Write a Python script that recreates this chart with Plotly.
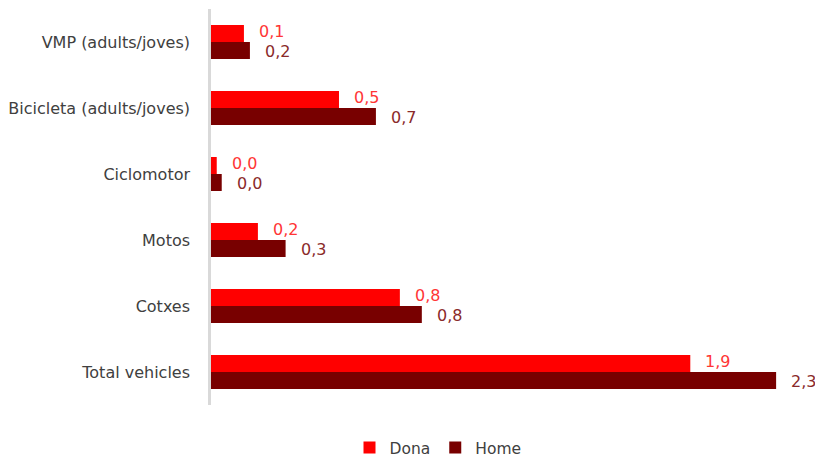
import plotly.graph_objects as go

categories = ["VMP (adults/joves)", "Bicicleta (adults/joves)", "Ciclomotor",
              "Motos", "Cotxes", "Total vehicles"]
dona = [0.132, 0.513, 0.023, 0.188, 0.757, 1.921]
home = [0.156, 0.661, 0.043, 0.299, 0.845, 2.265]
series_names = ["Dona", "Home"]

# page body has an 8px margin; figure is sized so that it fits the 823x457 window
OFF = 8
W, H = 823 - OFF, 457 - OFF
ML, MR, MT, MB = 211 - OFF, 0, 9 - OFF, 457 - 405
px_per_unit = 249.5
plot_w = W - ML - MR
plot_h = H - MT - MB
xmax = plot_w / px_per_unit

C_DONA = "#FF0000"
C_HOME = "#780000"
TXT = "#404040"
FONT = "DejaVu Sans"

fig = go.Figure()
fig.add_trace(go.Bar(y=categories, x=dona, name=series_names[0], orientation="h",
                     marker=dict(color=C_DONA, line=dict(width=0))))
fig.add_trace(go.Bar(y=categories, x=home, name=series_names[1], orientation="h",
                     marker=dict(color=C_HOME, line=dict(width=0))))

ann = []
for c, v in zip(categories, dona):
    ann.append(dict(x=v, y=c, xref="x", yref="y", text=f"{v:.1f}".replace(".", ","),
                    showarrow=False, xanchor="left", yanchor="middle", xshift=13, yshift=11,
                    font=dict(family=FONT, size=16, color="#FF3535")))
for c, v in zip(categories, home):
    ann.append(dict(x=v, y=c, xref="x", yref="y", text=f"{v:.1f}".replace(".", ","),
                    showarrow=False, xanchor="left", yanchor="middle", xshift=13, yshift=-9,
                    font=dict(family=FONT, size=16, color="#8A2A2A")))
ann.append(dict(x=(817 - 211) / plot_w, y=1 - (114 - 9) / plot_h,
                xref="paper", yref="paper", text="E", showarrow=False,
                xanchor="left", yanchor="middle",
                font=dict(family=FONT, size=16, color=TXT)))

fig.update_layout(
    width=W, height=H,
    margin=dict(l=ML, r=MR, t=MT, b=MB, autoexpand=False),
    paper_bgcolor="white", plot_bgcolor="white",
    barmode="group", bargap=0.485, bargroupgap=0,
    font=dict(family=FONT, size=16, color=TXT),
    separators=",.",
    showlegend=True,
    legend=dict(orientation="h", x=(438 - OFF) / W, xref="container", xanchor="center",
                y=(457 - 448) / H, yref="container", yanchor="middle",
                font=dict(family=FONT, size=15.5, color=TXT),
                itemwidth=30, traceorder="normal"),
    annotations=ann,
)
fig.update_xaxes(range=[0, xmax], showgrid=False, zeroline=False, showline=False,
                 showticklabels=False, ticks="", automargin=False)
fig.update_yaxes(autorange="reversed", showgrid=False, zeroline=False,
                 showline=True, linecolor="#D9D9D9", linewidth=2.5,
                 ticks="", ticklabelstandoff=15, automargin=False,
                 tickfont=dict(family=FONT, size=16, color=TXT))

fig.write_html("out.html")
